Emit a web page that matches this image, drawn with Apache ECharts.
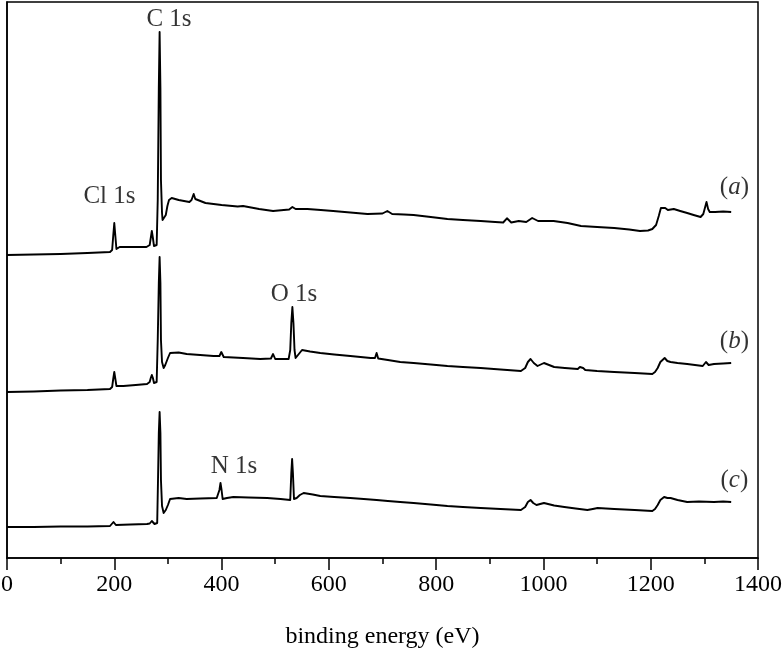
<!DOCTYPE html>
<html lang="en">
<head>
    <meta charset="UTF-8">
    <title>XPS survey spectra</title>
    <style>
        body { margin: 0; overflow: hidden; background: #fff; }
        #chart { width: 784px; height: 651px; }
    </style>
</head>
<body>
    <div id="chart"></div>
    <script src="https://cdn.jsdelivr.net/npm/echarts@6/dist/echarts.min.js"></script>
    <script>
        // binding energy (eV), intensity (a.u., curves stacked with offset)
        var spectrumA = [
            [0, 303], [50, 303.5], [100, 304], [150, 305], [192, 306], [196, 308], [198, 322], [200, 335],
            [202, 322], [204, 309], [206, 310], [210, 311], [240, 311], [260, 311], [266, 313], [268, 320],
            [270, 327], [272, 320], [274, 312], [279, 313], [281, 358], [283, 470], [284.5, 526], [286, 470],
            [287, 378], [289, 345], [290, 338], [293, 338], [296, 343], [299, 352], [302, 358], [307, 360],
            [320, 358], [340, 356], [344, 358], [348, 364], [351, 359], [354, 357], [370, 355], [400, 353],
            [430, 351.5], [440, 352], [450, 351], [470, 349], [496, 347], [526, 348.5], [532, 351], [538, 349],
            [560, 349], [585, 348], [608, 347], [640, 345.5], [672, 344], [700, 344.5], [709, 347], [718, 344],
            [740, 343.5], [758, 343], [790, 341], [821, 339], [850, 338], [883, 337], [910, 336], [925, 335.5],
            [932, 339.7], [940, 335.5], [954, 337], [968, 336], [979, 340], [990, 337], [1019, 337],
            [1045, 335], [1070, 332], [1100, 331], [1132, 330], [1160, 328.5], [1180, 327], [1195, 327.5],
            [1203, 329], [1210, 333], [1215, 342], [1219, 350], [1222, 352], [1227, 350], [1232, 348],
            [1243, 349], [1255, 347], [1268, 345], [1280, 343], [1293, 341], [1298, 344], [1301, 350],
            [1304, 356], [1307, 349], [1310, 346], [1320, 346], [1335, 346.5], [1350, 346]
        ];
        var spectrumB = [
            [0, 166], [50, 166.5], [100, 167.5], [150, 168], [192, 169], [196, 171], [198, 179], [200, 186],
            [202, 179], [204, 172], [217, 172], [240, 173], [261, 174], [266, 176], [268, 180], [270, 183],
            [272, 180], [274, 175], [279, 176], [281, 218], [283, 275], [284.5, 301], [286, 275], [287, 218],
            [289, 196], [292, 190], [295, 193], [300, 200], [304, 205], [307, 207], [320, 205.5], [335, 204],
            [360, 203], [385, 202], [396, 202], [399.5, 206], [404, 201], [440, 200], [472, 199], [492, 199.5],
            [496, 204], [500, 199], [525, 199], [528, 208], [530, 235], [532, 251], [534, 235], [536, 208],
            [538, 200], [544, 204], [550, 208], [565, 206.5], [584, 205], [610, 203.5], [640, 202],
            [678, 200], [686, 200], [689, 205], [692, 199.5], [710, 198], [733, 196], [758, 195], [790, 193.5],
            [821, 192], [850, 191], [883, 190], [920, 188.5], [958, 187], [966, 190], [971, 196], [976, 199],
            [982, 195], [989, 192], [1001, 195], [1020, 191], [1040, 190], [1064, 189], [1068, 191],
            [1071, 193], [1074, 190], [1078, 188], [1100, 187], [1132, 186], [1170, 185], [1203, 184],
            [1208, 186], [1213, 190], [1218, 196], [1226, 200], [1231, 197], [1237, 196], [1250, 195],
            [1268, 194], [1297, 192], [1303, 196], [1308, 193], [1318, 194], [1335, 194.5], [1350, 195]
        ];
        var spectrumC = [
            [0, 31], [50, 31], [100, 31.5], [150, 31.5], [192, 32], [195, 33], [198.5, 36], [203, 33],
            [230, 33.5], [261, 34], [266, 34.5], [270, 37], [275, 34], [280, 35], [281.5, 78], [283, 125],
            [284.5, 146], [286, 125], [287, 78], [289, 52], [292, 45], [296, 48], [300, 53], [304, 59],
            [307, 61], [320, 60], [335, 59], [360, 59.5], [391, 60], [394, 59], [396, 68], [398, 75],
            [400, 68], [402, 59], [410, 60], [422, 61], [450, 60.5], [485, 60], [510, 59], [528, 58],
            [530, 85], [531.5, 99], [533, 85], [535, 59], [540, 60], [546, 63], [553, 65], [570, 63.5],
            [584, 62], [610, 61], [640, 60], [665, 59], [689, 58], [710, 57], [733, 56], [758, 55],
            [790, 53.5], [821, 52], [850, 51], [883, 50], [920, 49], [958, 48], [966, 51], [971, 56],
            [976, 58], [981, 55], [987, 53], [1001, 55], [1020, 52.5], [1039, 51], [1060, 49.5],
            [1082, 48], [1092, 49], [1101, 50], [1132, 49], [1170, 48], [1203, 47], [1208, 49],
            [1213, 53], [1218, 58], [1225, 61], [1231, 60], [1237, 60], [1250, 58], [1268, 56],
            [1290, 56.5], [1318, 56], [1335, 56.5], [1350, 56]
        ];
        // peak labels: [energy, intensity, text]
        var peakLabels = [
            [302, 539, 'C 1s'],
            [191, 362, 'Cl 1s'],
            [535, 263.5, 'O 1s'],
            [423, 92, 'N 1s']
        ];
        var curveLabels = [
            [1356, 370.5, 'a'],
            [1356, 217, 'b'],
            [1356, 78, 'c']
        ];
        var xTicks = { min: 0, max: 1400, step: 200 };

        var chart = echarts.init(document.getElementById('chart'));
        var serif = '"Liberation Serif", "Times New Roman", serif';

        function curve(data) {
            return {
                type: 'line',
                data: data,
                symbol: 'none',
                lineStyle: { color: '#000', width: 1.9, join: 'round' },
                silent: true
            };
        }

        chart.setOption({
            animation: false,
            backgroundColor: '#fff',
            grid: {
                left: 7, right: 26, top: 2, bottom: 93,
                outerBoundsMode: 'none',
                containLabel: false,
                show: true, borderColor: '#000', borderWidth: 1.5
            },
            xAxis: {
                type: 'value',
                min: xTicks.min,
                max: xTicks.max,
                interval: xTicks.step,
                name: 'binding energy (eV)',
                nameLocation: 'middle',
                nameGap: 67,
                nameTextStyle: { fontFamily: serif, fontSize: 24, color: '#000' },
                axisLine: { lineStyle: { color: '#000', width: 1.5 } },
                axisTick: { inside: false, length: 12, lineStyle: { color: '#000', width: 1.5 } },
                minorTick: { show: true, splitNumber: 2, length: 6, lineStyle: { color: '#000', width: 1.5 } },
                axisLabel: {
                    fontFamily: serif, fontSize: 24, color: '#000', margin: 15,
                    formatter: function (v) { return String(v); }
                },
                splitLine: { show: false }
            },
            yAxis: {
                type: 'value',
                min: 0,
                max: 556,
                axisLine: { show: true, lineStyle: { color: '#000', width: 1.5 } },
                axisTick: { show: false },
                axisLabel: { show: false },
                splitLine: { show: false }
            },
            series: [
                curve(spectrumA),
                curve(spectrumB),
                curve(spectrumC),
                {
                    type: 'scatter',
                    symbolSize: 0,
                    silent: true,
                    data: peakLabels,
                    label: {
                        show: true,
                        position: 'inside',
                        formatter: function (p) { return p.data[2]; },
                        fontFamily: serif,
                        fontSize: 25,
                        color: '#000'
                    }
                },
                {
                    type: 'scatter',
                    symbolSize: 0,
                    silent: true,
                    data: curveLabels,
                    label: {
                        show: true,
                        position: 'inside',
                        formatter: function (p) { return '{p|(}{i|' + p.data[2] + '}{p|)}'; },
                        rich: {
                            p: { fontFamily: serif, fontSize: 25, color: '#000' },
                            i: { fontFamily: serif, fontSize: 25, fontStyle: 'italic', color: '#000' }
                        }
                    }
                }
            ]
        });
    </script>
</body>
</html>
